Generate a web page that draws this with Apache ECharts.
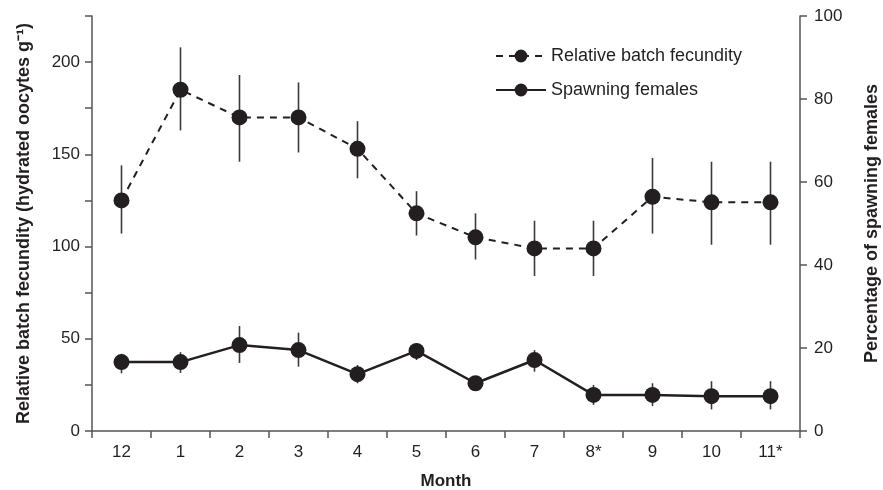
<!DOCTYPE html>
<html>
<head>
<meta charset="utf-8">
<script src="https://cdn.jsdelivr.net/npm/echarts@6/dist/echarts.min.js"></script>
<style>
  html, body { margin: 0; padding: 0; background: #fff; }
  #chart { width: 883px; height: 490px; }
</style>
</head>
<body>
<div id="chart"></div>
<script>
// month labels (8 and 11 flagged with *)
const months = ['12', '1', '2', '3', '4', '5', '6', '7', '8*', '9', '10', '11*'];

// relative batch fecundity (left axis) with error bar limits
const fecundity = [125, 185, 170, 170, 153, 118, 105, 99, 99, 127, 124, 124];
const fecundityLow = [107, 163, 146, 151, 137, 106, 93, 84, 84, 107, 101, 101];
const fecundityHigh = [144, 208, 193, 189, 168, 130, 118, 114, 114, 148, 146, 146];

// percentage of spawning females (right axis) with error bar limits
const spawning = [16.6, 16.6, 20.7, 19.5, 13.7, 19.3, 11.5, 17.1, 8.7, 8.7, 8.4, 8.4];
const spawningLow = [13.9, 14, 16.4, 15.5, 11.5, 17.1, 10.5, 14.3, 6.3, 6, 5.2, 5.2];
const spawningHigh = [18.6, 19, 25.3, 23.7, 15.9, 21.2, 12.5, 19.5, 11.1, 11.5, 12, 12];

const font = 'Liberation Sans, Arial, Helvetica, sans-serif';
const ink = '#231f20';

// error bars drawn as custom series
function errorSeries(low, high, axisIndex) {
  return {
    type: 'custom',
    yAxisIndex: axisIndex,
    silent: true,
    z: 1,
    data: months.map((m, i) => [i, low[i], high[i]]),
    renderItem: (params, api) => {
      const lo = api.coord([api.value(0), api.value(1)]);
      const hi = api.coord([api.value(0), api.value(2)]);
      return {
        type: 'line',
        shape: { x1: lo[0], y1: lo[1], x2: hi[0], y2: hi[1] },
        style: { stroke: '#3a3a3a', lineWidth: 1.6 }
      };
    }
  };
}

const chart = echarts.init(document.getElementById('chart'));

const option = {
  animation: false,
  backgroundColor: '#fff',
  textStyle: { fontFamily: font },
  grid: { left: 92, right: 83, top: 16, bottom: 59, outerBoundsMode: 'none' },
  legend: {
    orient: 'vertical',
    left: 490,
    top: 42,
    itemWidth: 50,
    itemHeight: 16,
    itemGap: 16,
    textStyle: { fontSize: 18, color: ink, fontFamily: font },
    data: ['Relative batch fecundity', 'Spawning females']
  },
  xAxis: {
    type: 'category',
    data: months,
    boundaryGap: true,
    name: 'Month',
    nameLocation: 'middle',
    nameGap: 42,
    nameTextStyle: { fontSize: 17, fontWeight: 'bold', color: ink },
    axisLine: { lineStyle: { color: '#555', width: 1.5 } },
    axisTick: { show: true, length: 7, alignWithLabel: false, lineStyle: { color: '#555', width: 1.5 } },
    axisLabel: { fontSize: 17, color: ink, margin: 13 },
    splitLine: { show: false }
  },
  yAxis: [
    {
      type: 'value',
      min: 0,
      max: 225,
      interval: 25,
      position: 'left',
      name: 'Relative batch fecundity (hydrated oocytes g\u207B\u00B9)',
      nameLocation: 'middle',
      nameGap: 59,
      nameRotate: 90,
      nameTextStyle: { fontSize: 18, fontWeight: 'bold', color: ink },
      axisLine: { show: true, lineStyle: { color: '#555', width: 1.5 } },
      axisTick: { show: true, length: 7, lineStyle: { color: '#555', width: 1.5 } },
      axisLabel: {
        fontSize: 17,
        color: ink,
        margin: 12,
        formatter: v => (v % 50 === 0 ? String(v) : '')
      },
      splitLine: { show: false }
    },
    {
      type: 'value',
      min: 0,
      max: 100,
      interval: 20,
      position: 'right',
      name: 'Percentage of spawning females',
      nameLocation: 'middle',
      nameGap: 63,
      nameRotate: 90,
      nameTextStyle: { fontSize: 18, fontWeight: 'bold', color: ink },
      axisLine: { show: true, lineStyle: { color: '#555', width: 1.5 } },
      axisTick: { show: true, length: 7, lineStyle: { color: '#555', width: 1.5 } },
      axisLabel: { fontSize: 17, color: ink, margin: 14 },
      splitLine: { show: false }
    }
  ],
  series: [
    errorSeries(fecundityLow, fecundityHigh, 0),
    errorSeries(spawningLow, spawningHigh, 1),
    {
      name: 'Relative batch fecundity',
      type: 'line',
      yAxisIndex: 0,
      data: fecundity,
      symbol: 'circle',
      symbolSize: 16,
      z: 3,
      itemStyle: { color: ink },
      lineStyle: { color: ink, width: 2, type: [7, 6] }
    },
    {
      name: 'Spawning females',
      type: 'line',
      yAxisIndex: 1,
      data: spawning,
      symbol: 'circle',
      symbolSize: 16,
      z: 3,
      itemStyle: { color: ink },
      lineStyle: { color: ink, width: 2.5 }
    }
  ]
};

chart.setOption(option);
</script>
</body>
</html>
